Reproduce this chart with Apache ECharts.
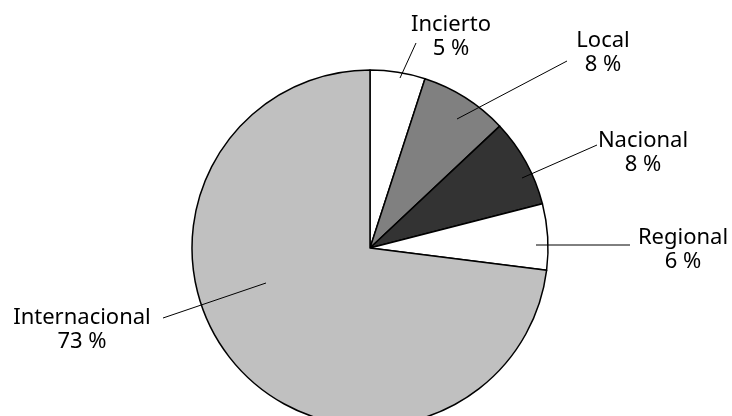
<!DOCTYPE html>
<html>
<head>
<meta charset="utf-8">
<script src="https://cdn.jsdelivr.net/npm/echarts@6/dist/echarts.min.js"></script>
<style>
  html, body { margin: 0; padding: 0; background: #fff; }
  #chart { width: 732px; height: 416px; }
</style>
</head>
<body>
<div id="chart"></div>
<script>
// Share of items by scope (percent), clockwise from 12 o'clock
const categories = ['Incierto', 'Local', 'Nacional', 'Regional', 'Internacional'];
const shares = [5, 8, 8, 6, 73];
const fills = ['#ffffff', '#808080', '#333333', '#ffffff', '#c0c0c0'];

// Label placement: text centre and leader line (inner end, outer end)
const labelSpots = [
  { text: [451, 37],  line: [[400, 78], [416, 43]] },
  { text: [603, 53],  line: [[457, 119], [567, 61]] },
  { text: [643, 153], line: [[522, 178], [597, 145]] },
  { text: [683, 250], line: [[536, 245], [630, 245]] },
  { text: [82, 330],  line: [[266, 283], [163, 318]] }
];

const PIE_CENTER = [370, 248];
const PIE_RADIUS = 178;

const chart = echarts.init(document.getElementById('chart'), null, { renderer: 'canvas' });

const pieData = categories.map((name, i) => ({
  name: name,
  value: shares[i],
  itemStyle: { color: fills[i] }
}));

chart.setOption({
  animation: false,
  backgroundColor: '#ffffff',
  series: [
    {
      // filled slices
      type: 'pie',
      z: 2,
      center: PIE_CENTER,
      radius: PIE_RADIUS,
      startAngle: 90,
      clockwise: true,
      data: pieData,
      itemStyle: { borderColor: '#000000', borderWidth: 1.5 },
      label: { show: false },
      labelLine: { show: false },
      emphasis: { disabled: true },
      silent: true
    },
    {
      // transparent copy on top carrying labels and leader lines
      type: 'pie',
      z: 3,
      center: PIE_CENTER,
      radius: PIE_RADIUS,
      startAngle: 90,
      clockwise: true,
      avoidLabelOverlap: false,
      data: categories.map((name, i) => ({ name: name, value: shares[i] })),
      itemStyle: { color: 'rgba(0,0,0,0)', borderWidth: 0 },
      label: {
        show: true,
        position: 'outside',
        formatter: '{b}\n{c} %',
        fontFamily: 'Noto Sans',
        fontSize: 22,
        lineHeight: 24,
        color: '#000000',
        align: 'center'
      },
      labelLine: {
        show: true,
        length: 10,
        length2: 10,
        smooth: false,
        lineStyle: { color: '#000000', width: 1 }
      },
      labelLayout: function (params) {
        const spot = labelSpots[params.dataIndex];
        return {
          x: spot.text[0],
          y: spot.text[1],
          align: 'center',
          verticalAlign: 'middle',
          labelLinePoints: [spot.line[0], spot.line[1], spot.line[1]]
        };
      },
      emphasis: { disabled: true },
      silent: true
    }
  ]
});
</script>
</body>
</html>
